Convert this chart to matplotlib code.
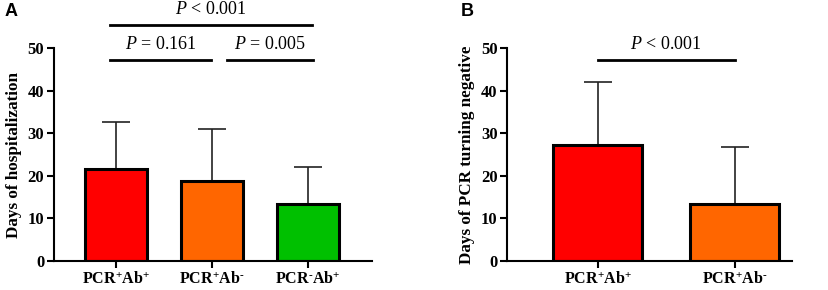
import matplotlib
matplotlib.use("Agg")
import matplotlib.pyplot as plt
import numpy as np

plt.rcParams['font.family'] = ['Liberation Serif', 'DejaVu Serif']
plt.rcParams['font.weight'] = 'bold'
plt.rcParams['mathtext.fontset'] = 'custom'
plt.rcParams['mathtext.rm'] = 'Liberation Serif:bold'
plt.rcParams['mathtext.it'] = 'Liberation Serif:italic:normal'
plt.rcParams['mathtext.bf'] = 'Liberation Serif:bold'

# panel A
groups_a = ['PCR$^{+}$Ab$^{+}$', 'PCR$^{+}$Ab$^{\u2010}$', 'PCR$^{\u2010}$Ab$^{+}$']
mean_a = [21.7, 18.8, 13.4]
sd_a = [10.9, 12.3, 8.6]
colors_a = ['#ff0000', '#ff6600', '#00c000']

# panel B
groups_b = ['PCR$^{+}$Ab$^{+}$', 'PCR$^{+}$Ab$^{\u2010}$']
mean_b = [27.2, 13.3]
sd_b = [14.8, 13.5]
colors_b = ['#ff0000', '#ff6600']

fig = plt.figure(figsize=(8.29, 2.9), dpi=100)
ax1 = fig.add_axes([0.065, 0.101, 0.3836, 0.732])
ax2 = fig.add_axes([0.612, 0.101, 0.3434, 0.732])


def draw(ax, groups, mean, sd, colors, ylabel, xlim):
    x = np.arange(len(groups))
    ax.errorbar(x, mean, yerr=[np.zeros(len(mean)), sd], fmt='none',
                ecolor='#222222', elinewidth=1.2, capsize=10, capthick=1.2, zorder=1)
    ax.bar(x, mean, width=0.65, color=colors, edgecolor='black', linewidth=2.2, zorder=2)
    ax.set_xlim(*xlim)
    ax.set_ylim(0, 50)
    ax.set_yticks([0, 10, 20, 30, 40, 50])
    ax.set_xticks(x)
    ax.set_xticklabels(groups, fontsize=11.5)
    ax.tick_params(axis='y', labelsize=12, width=1.5, length=5, pad=2)
    ax.tick_params(axis='x', width=1.5, length=5, pad=3)
    for s in ['top', 'right']:
        ax.spines[s].set_visible(False)
    for s in ['left', 'bottom']:
        ax.spines[s].set_linewidth(1.5)
    ax.set_ylabel(ylabel, fontsize=12.3, fontweight='bold', labelpad=4)


def sig(ax, x0, x1, y, text):
    ax.plot([x0, x1], [y, y], color='black', lw=2, clip_on=False)
    ax.text((x0 + x1) / 2, y + 1.6, text, ha='center', va='bottom', fontsize=13,
            fontweight='normal', clip_on=False)


draw(ax1, groups_a, mean_a, sd_a, colors_a, 'Days of hospitalization', (-0.65, 2.67))
draw(ax2, groups_b, mean_b, sd_b, colors_b, 'Days of PCR turning negative', (-0.66, 1.42))

sig(ax1, -0.06, 0.99, 47.3, '$\\mathit{P}$ = 0.161')
sig(ax1, 1.16, 2.06, 47.3, '$\\mathit{P}$ = 0.005')
sig(ax1, -0.06, 2.04, 55.6, '$\\mathit{P}$ < 0.001')
sig(ax2, 0.0, 1.0, 47.3, '$\\mathit{P}$ < 0.001')

fig.text(0.006, 0.962, 'A', fontsize=13, fontweight='bold', family='Liberation Sans', va='center')
fig.text(0.556, 0.962, 'B', fontsize=13, fontweight='bold', family='Liberation Sans', va='center')

fig.savefig('out.png', dpi=100)
